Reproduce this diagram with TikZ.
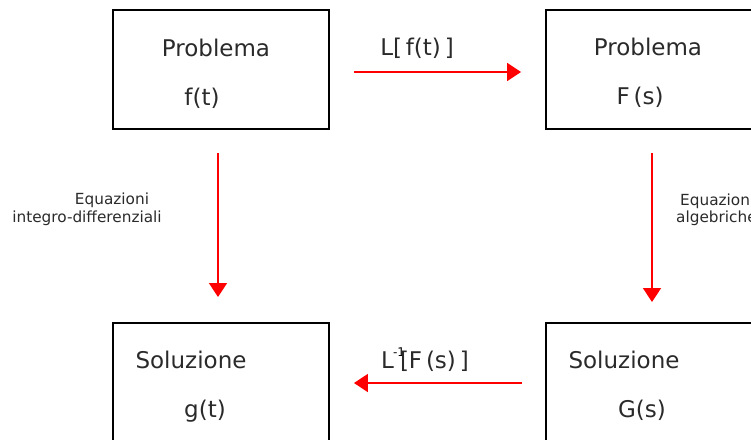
\documentclass[tikz,border=0pt]{standalone}
\usepackage{fontspec}
\setmainfont{DejaVu Sans}
\usetikzlibrary{arrows.meta}
\definecolor{ink}{HTML}{2A2A2A}
\begin{document}
\begin{tikzpicture}[x=1pt,y=1pt,
  box/.style={draw=black,line width=1.9pt,minimum width=216pt,minimum height=119pt,inner sep=0pt},
  big/.style={anchor=base,inner sep=0pt,text=ink,font=\fontsize{23}{25}\selectfont},
  small/.style={anchor=base,inner sep=0pt,text=ink,font=\fontsize{15.3}{17}\selectfont},
  conn/.style={red,line width=1.7pt,-{Triangle[length=14pt,width=18pt]}}]
\useasboundingbox (0,0) rectangle (751,-439);
\clip (0,0) rectangle (751,-439);

% the four boxes
\node[box] (tl) at (221,-69.5) {};
\node[box] (tr) at (654,-69.5) {};
\node[box] (bl) at (221,-382.5) {};
\node[box] (br) at (654,-382.5) {};

% box texts
\node[big] (tl1) at (216,-56) {Problema};
\node[big] (tl2) at (202,-105) {f(t)};
\node[big] (tr1) at (648,-55) {Problema};
\node[big] (tr2) at (640,-104) {F\,(s)};
\node[big] (bl1) at (191,-368) {Soluzione};
\node[big] (bl2) at (205,-417) {g(t)};
\node[big] (br1) at (624,-368) {Soluzione};
\node[big] (br2) at (642,-417) {G(s)};

% arrow end points
\coordinate (a1s) at ([xshift=24pt,yshift=-2.5pt]tl.east);
\coordinate (a1e) at ([xshift=-24pt,yshift=-2.5pt]tr.west);
\coordinate (a2s) at ([xshift=-23pt,yshift=-0.5pt]br.west);
\coordinate (a2e) at ([xshift=24pt,yshift=-0.5pt]bl.west -| bl.east);
\coordinate (a3s) at (218,-153);
\coordinate (a3e) at (218,-297);
\coordinate (a4s) at (652,-153);
\coordinate (a4e) at (652,-302);

\draw[conn] (a1s) -- (a1e);
\draw[conn] (a2s) -- (a2e);
\draw[conn] (a3s) -- (a3e);
\draw[conn] (a4s) -- (a4e);

% arrow labels
\node[big] (l1) at (417,-55) {L[\,f(t)\,]};
\node[big] (l2) at (425,-368) {L\kern-1pt\raisebox{12pt}{\fontsize{12}{12}\selectfont\color{black}-1}\kern-5pt[F\,(s)\,]};
\node[small] (l3a) at (112,-204) {Equazioni};
\node[small] (l3b) at (87,-222) {integro-differenziali};
\node[small,anchor=base west] (l4a) at (680,-205) {Equazioni};
\node[small,anchor=base west] (l4b) at (676,-222) {algebriche};
\end{tikzpicture}
\end{document}
